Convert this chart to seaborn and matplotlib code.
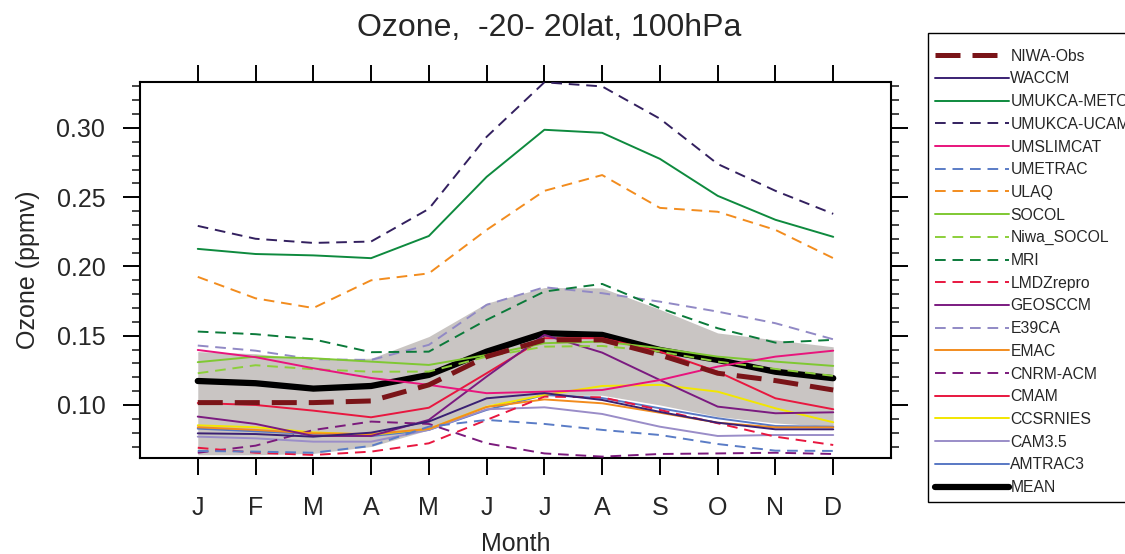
import numpy as np
import pandas as pd
import seaborn as sns
import matplotlib.pyplot as plt
from matplotlib.ticker import MultipleLocator

# monthly ozone at 100hPa, -20..20 lat
months = list(range(1, 13))
month_labels = ['J', 'F', 'M', 'A', 'M', 'J', 'J', 'A', 'S', 'O', 'N', 'D']

niwa_obs = [.1017, .1017, .1017, .1029, .1145, .1349, .147, .147, .1361, .1229, .1176, .1108]
waccm = [.0795, .079, .0771, .080, .088, .1048, .1085, .1036, .095, .0872, .0824, .0824]
umukca_meto = [.2127, .209, .208, .206, .222, .2647, .2987, .2965, .2777, .251, .2337, .2214]
umukca_ucam = [.2293, .220, .217, .218, .2416, .2936, .333, .330, .3067, .274, .2546, .238]
umslimcat = [.1397, .1345, .1265, .1195, .1145, .1085, .1096, .1108, .118, .1277, .1349, .1392]
umetrac = [.0668, .0663, .0655, .0704, .0843, .0892, .0863, .082, .0783, .0718, .067, .0668]
ulaq = [.1925, .177, .170, .190, .195, .2264, .2546, .266, .2423, .2395, .2264, .206]
socol = [.1309, .1349, .1337, .1313, .1289, .1361, .1446, .1458, .141, .1349, .1313, .1282]
niwa_socol = [.1229, .1287, .1258, .124, .1241, .1349, .1421, .1426, .1385, .1313, .126, .121]
mri = [.153, .1511, .1474, .1381, .1385, .1614, .1819, .1874, .1699, .1554, .145, .147]
lmdzrepro = [.0691, .0655, .0639, .0663, .0723, .0892, .106, .1055, .0964, .0868, .0771, .0711]
geosccm = [.0916, .0863, .0776, .0776, .0892, .1205, .1506, .1378, .118, .0988, .094, .0947]
e39ca = [.1429, .1392, .133, .1325, .1434, .1723, .185, .1807, .1746, .1674, .159, .1474]
emac = [.0839, .082, .0795, .079, .0827, .0985, .104, .1012, .0944, .0872, .0838, .0838]
cnrm_acm = [.0655, .0706, .0819, .088, .0863, .0723, .065, .0627, .0646, .065, .0655, .0646]
cmam = [.1014, .100, .0959, .0911, .098, .1229, .1482, .1482, .1385, .124, .1048, .0969]
ccsrnies = [.0853, .0839, .0802, .0785, .0827, .0988, .1072, .1137, .1145, .1096, .0976, .0875]
cam35 = [.0771, .0759, .0735, .0735, .082, .0969, .0983, .0935, .0843, .0776, .0783, .0783]
amtrac3 = [.0829, .081, .079, .0775, .082, .0964, .1072, .105, .0976, .0904, .0848, .0843]
mean = [.1173, .1157, .1118, .1137, .1217, .1385, .1518, .1506, .1397, .1325, .124, .1193]

band_hi = [.1385, .137, .133, .1337, .1494, .1735, .1848, .1845, .169, .152, .147, .142]
band_lo = [.064, .064, .065, .070, .082, .100, .107, .107, .100, .0916, .087, .0843]

# name, values, colour, dashed
models = [
    ('WACCM', waccm, '#3a2073', False),
    ('UMUKCA-METO', umukca_meto, '#0e8a3e', False),
    ('UMUKCA-UCAM', umukca_ucam, '#33205f', True),
    ('UMSLIMCAT', umslimcat, '#e8147c', False),
    ('UMETRAC', umetrac, '#5a7cc6', True),
    ('ULAQ', ulaq, '#f28c1e', True),
    ('SOCOL', socol, '#7fc832', False),
    ('Niwa_SOCOL', niwa_socol, '#8ccf3a', True),
    ('MRI', mri, '#0b7a3a', True),
    ('LMDZrepro', lmdzrepro, '#e8173f', True),
    ('GEOSCCM', geosccm, '#7b1a80', False),
    ('E39CA', e39ca, '#9189c5', True),
    ('EMAC', emac, '#f28c1e', False),
    ('CNRM-ACM', cnrm_acm, '#7b1a7c', True),
    ('CMAM', cmam, '#e8173f', False),
    ('CCSRNIES', ccsrnies, '#f2e600', False),
    ('CAM3.5', cam35, '#9a8dc8', False),
    ('AMTRAC3', amtrac3, '#5878c4', False),
]

sns.set_style('ticks')
plt.rcParams['font.family'] = ['Liberation Sans', 'DejaVu Sans']

fig = plt.figure(figsize=(11.25, 5.54), dpi=100)
ax = fig.add_axes([140/1125, 1-458/554, (891-140)/1125, (458-82)/554])

ax.fill_between(months, band_lo, band_hi, color='#c9c5c3', lw=0, zorder=1)

sns.lineplot(x=months, y=mean, color='black', lw=4.5, label='MEAN', ax=ax, zorder=2)
for name, vals, col, dashed in reversed(models):
    ls = (0, (5.5, 3.5)) if dashed else '-'
    sns.lineplot(x=months, y=vals, color=col, lw=1.4, linestyle=ls, label=name, ax=ax, zorder=3)
sns.lineplot(x=months, y=niwa_obs, color='#7a1418', lw=3.6, linestyle=(0, (5.0, 2.4)),
             label='NIWA-Obs', ax=ax, zorder=4)

ax.set_xlim(0, 13)
ax.set_ylim(0.0617, 0.3332)
ax.set_xticks(months)
ax.set_xticklabels(month_labels)
ax.yaxis.set_major_locator(MultipleLocator(0.05))
ax.yaxis.set_minor_locator(MultipleLocator(0.01))
ax.yaxis.set_major_formatter(plt.FormatStrFormatter('%.2f'))

for s in ax.spines.values():
    s.set_linewidth(1.5)
    s.set_color('black')
ax.tick_params(axis='both', which='major', direction='out', length=12.5, width=1.4,
               labelsize=18, top=True, right=True, color='black')
ax.tick_params(axis='x', pad=15)
ax.tick_params(axis='y', pad=12.5)
ax.tick_params(axis='y', which='minor', direction='out', length=5.8, width=1.2,
               right=True, left=True)

ax.set_xlabel('Month', fontsize=18, labelpad=8.5)
ax.set_ylabel('Ozone (ppmv)', fontsize=18, labelpad=12)
fig.text(549/1125, 1-28/554, 'Ozone,  -20- 20lat, 100hPa', ha='center', va='center', fontsize=23)

# legend in the same order as the original
handles, labels = ax.get_legend_handles_labels()
lookup = dict(zip(labels, handles))
order = ['NIWA-Obs'] + [m[0] for m in models] + ['MEAN']
if ax.get_legend():
    ax.get_legend().remove()
leg = fig.legend([lookup[k] for k in order], order, loc='upper left',
                 bbox_to_anchor=(928/1125, 1-33/554), bbox_transform=fig.transFigure,
                 fontsize=11.3, handlelength=4.7, handletextpad=0.1, labelspacing=0.49,
                 borderpad=0.45, borderaxespad=0, fancybox=False, framealpha=1,
                 edgecolor='black', title=' ', title_fontsize=1)
leg.get_frame().set_linewidth(1.0)

fig.savefig('out.png', dpi=100)
